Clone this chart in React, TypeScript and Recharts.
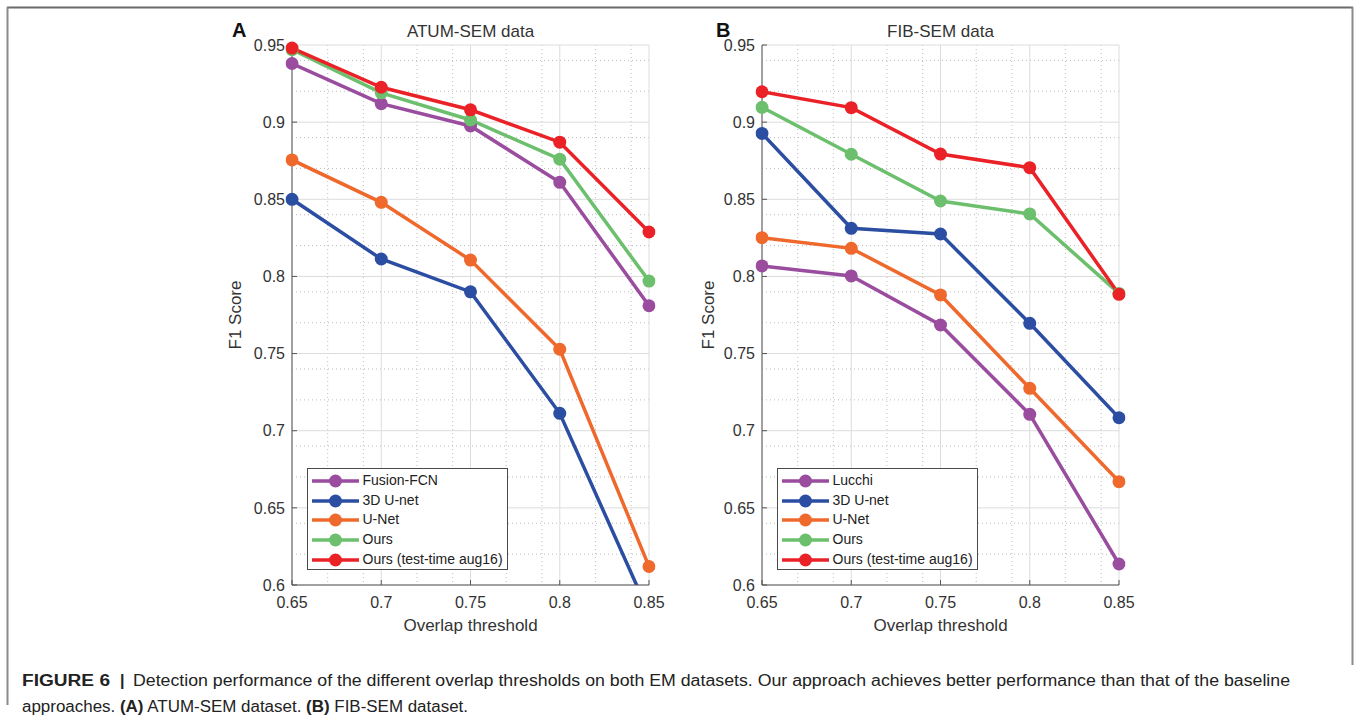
import React from 'react';
import { LineChart, Line, XAxis, YAxis, CartesianGrid, Legend } from 'recharts';

const FONT = '"Liberation Sans", Arial, Helvetica, sans-serif';
const CAPTION_FONT = '"Liberation Sans Narrow", "Liberation Sans", Arial, sans-serif';

const thresholds = [0.65, 0.7, 0.75, 0.8, 0.85];
const xTicks = [0.65, 0.7, 0.75, 0.8, 0.85];
const yTicks = [0.6, 0.65, 0.7, 0.75, 0.8, 0.85, 0.9, 0.95];

// Panel A: ATUM-SEM
const atumNames = ['Fusion-FCN', '3D U-net', 'U-Net', 'Ours', 'Ours (test-time aug16)'];
const atumFusionFCN = [0.938, 0.912, 0.8975, 0.861, 0.781];
const atum3DUnet = [0.85, 0.8113, 0.79, 0.7113, 0.582];
const atumUNet = [0.8755, 0.848, 0.8106, 0.7528, 0.612];
const atumOurs = [0.947, 0.919, 0.9014, 0.876, 0.797];
const atumOursAug = [0.948, 0.9226, 0.908, 0.887, 0.8288];

// Panel B: FIB-SEM
const fibNames = ['Lucchi', '3D U-net', 'U-Net', 'Ours', 'Ours (test-time aug16)'];
const fibLucchi = [0.8068, 0.8003, 0.7685, 0.7106, 0.6136];
const fib3DUnet = [0.8927, 0.8312, 0.8275, 0.7696, 0.7084];
const fibUNet = [0.8251, 0.8182, 0.788, 0.7275, 0.667];
const fibOurs = [0.9096, 0.8792, 0.8489, 0.8405, 0.789];
const fibOursAug = [0.9197, 0.9094, 0.8793, 0.8705, 0.7884];

const seriesColors = ['#9a4c9e', '#2c4ea2', '#ef682c', '#6cbf6d', '#ea2228'];

const minorY: number[] = [];
for (let i = 60; i <= 95; i++) if (i % 5 !== 0) minorY.push(i / 100);
const minorX: number[] = [];
for (let i = 65; i <= 85; i++) if (i % 5 !== 0) minorX.push(i / 100);

function buildData(values: number[][]) {
  return thresholds.map((t, i) => {
    const row: any = { t };
    values.forEach((s, k) => {
      row['s' + k] = s[i];
    });
    return row;
  });
}

const LegendBox = ({ payload, names }: any) => {
  const items = [...(payload || [])].sort(
    (a: any, b: any) => names.indexOf(a.value) - names.indexOf(b.value)
  );
  return (
    <div
      style={{
        boxSizing: 'border-box',
        width: 201,
        height: 102,
        border: '1.5px solid #4a4a4a',
        background: '#fff',
        paddingTop: 2,
        paddingLeft: 3.5,
        fontFamily: FONT,
        fontSize: 14,
        color: '#222',
      }}
    >
      {items.map((p: any) => (
        <div key={p.value} style={{ display: 'flex', alignItems: 'center', height: 19.7 }}>
          <svg width={47} height={18} style={{ display: 'block' }}>
            <line x1={0} y1={9} x2={47} y2={9} stroke={p.color} strokeWidth={3.5} />
            <circle cx={23.5} cy={9} r={6.5} fill={p.color} />
          </svg>
          <span style={{ marginLeft: 4, lineHeight: '19.7px', whiteSpace: 'nowrap' }}>{p.value}</span>
        </div>
      ))}
    </div>
  );
};

const axisColor = '#555';
const tickStyle = { fill: '#333', fontSize: 16, fontFamily: FONT };

function Panel(props: {
  left: number;
  names: string[];
  values: number[][];
  marginLeft: number;
  marginRight: number;
  yLabelOffset: number;
  legendLeft: number;
}) {
  const data = buildData(props.values);
  return (
    <div style={{ position: 'absolute', left: props.left, top: 0 }}>
      <LineChart
        width={470}
        height={640}
        data={data}
        margin={{ top: 45, right: props.marginRight, left: props.marginLeft, bottom: 25 }}
      >
        <CartesianGrid
          horizontalValues={minorY}
          verticalValues={minorX}
          stroke="#bdbdbd"
          strokeDasharray="1 3"
        />
        <CartesianGrid horizontalValues={yTicks} verticalValues={xTicks} stroke="#dcdcdc" />
        <XAxis
          dataKey="t"
          type="number"
          domain={[0.65, 0.85]}
          ticks={xTicks}
          allowDataOverflow
          height={30}
          tickSize={-5}
          tickMargin={17}
          axisLine={{ stroke: axisColor }}
          tickLine={{ stroke: axisColor }}
          tick={tickStyle}
          label={{
            value: 'Overlap threshold',
            position: 'bottom',
            offset: 4,
            style: { fill: '#333', fontSize: 17, fontFamily: FONT },
          }}
        />
        <XAxis
          xAxisId="top"
          dataKey="t"
          orientation="top"
          type="number"
          domain={[0.65, 0.85]}
          ticks={xTicks}
          height={0}
          tickSize={-5}
          tickFormatter={() => ''}
          axisLine={{ stroke: axisColor }}
          tickLine={{ stroke: axisColor }}
        />
        <YAxis
          type="number"
          domain={[0.6, 0.95]}
          ticks={yTicks}
          allowDataOverflow
          width={60}
          tickSize={-5}
          tickMargin={12}
          axisLine={{ stroke: axisColor }}
          tickLine={{ stroke: axisColor }}
          tick={tickStyle}
          label={{
            value: 'F1 Score',
            angle: -90,
            position: 'insideLeft',
            offset: props.yLabelOffset,
            style: { textAnchor: 'middle', fill: '#333', fontSize: 17, fontFamily: FONT },
          }}
        />
        <YAxis
          yAxisId="right"
          orientation="right"
          type="number"
          domain={[0.6, 0.95]}
          ticks={yTicks}
          width={0}
          tickSize={-5}
          tickFormatter={() => ''}
          axisLine={{ stroke: axisColor }}
          tickLine={{ stroke: axisColor }}
        />
        <Legend
          layout="vertical"
          align="center"
          verticalAlign="middle"
          content={(p: any) => <LegendBox payload={p.payload} names={props.names} />}
          wrapperStyle={{ left: props.legendLeft, top: 468, width: 201, height: 102 }}
        />
        {props.names.map((n, k) => (
          <Line
            key={n}
            type="linear"
            dataKey={'s' + k}
            name={n}
            stroke={seriesColors[k]}
            strokeWidth={3.5}
            dot={{ r: 6.5, fill: seriesColors[k], stroke: seriesColors[k], strokeWidth: 0, clipDot: false }}
            activeDot={false}
            isAnimationActive={false}
          />
        ))}
      </LineChart>
    </div>
  );
}

export default function App() {
  return (
    <div style={{ position: 'absolute', left: 0, top: 0, width: 1360, height: 724, background: '#fff' }}>
      <svg width={1360} height={724} style={{ position: 'absolute', left: 0, top: 0 }}>
        <line x1={7} y1={7.5} x2={1353} y2={7.5} stroke="#6b6b6b" strokeWidth={2} />
        <line x1={7.5} y1={7} x2={7.5} y2={705} stroke="#8a8a8a" strokeWidth={2} />
        <line x1={1352.5} y1={7} x2={1352.5} y2={665} stroke="#8a8a8a" strokeWidth={2} />
        <text x={232} y={37} fontFamily={FONT} fontWeight="bold" fontSize={20} fill="#111">A</text>
        <text x={716} y={37} fontFamily={FONT} fontWeight="bold" fontSize={20} fill="#111">B</text>
        <text x={470.5} y={36.7} textAnchor="middle" fontFamily={FONT} fontSize={17} fill="#333">ATUM-SEM data</text>
        <text x={940.5} y={36.7} textAnchor="middle" fontFamily={FONT} fontSize={17} fill="#333">FIB-SEM data</text>
        <text x={22} y={686} fontFamily={CAPTION_FONT} fontWeight="bold" fontSize={16} fill="#222" textLength={88} lengthAdjust="spacingAndGlyphs">FIGURE 6</text>
        <text x={120} y={686} fontFamily={CAPTION_FONT} fontWeight="bold" fontSize={16} fill="#222">|</text>
        <text x={133} y={686} fontFamily={CAPTION_FONT} fontSize={16} fill="#222" textLength={1157} lengthAdjust="spacingAndGlyphs">
          Detection performance of the different overlap thresholds on both EM datasets. Our approach achieves better performance than that of the baseline
        </text>
        <text x={22} y={712} fontFamily={CAPTION_FONT} fontSize={16} fill="#222" textLength={446} lengthAdjust="spacingAndGlyphs">
          approaches. <tspan fontWeight="bold">(A)</tspan> ATUM-SEM dataset. <tspan fontWeight="bold">(B)</tspan> FIB-SEM dataset.
        </text>
      </svg>
      <Panel
        left={220}
        names={atumNames}
        values={[atumFusionFCN, atum3DUnet, atumUNet, atumOurs, atumOursAug]}
        marginLeft={12}
        marginRight={41}
        yLabelOffset={3}
        legendLeft={87}
      />
      <Panel
        left={700}
        names={fibNames}
        values={[fibLucchi, fib3DUnet, fibUNet, fibOurs, fibOursAug]}
        marginLeft={2}
        marginRight={51}
        yLabelOffset={6}
        legendLeft={77}
      />
    </div>
  );
}
